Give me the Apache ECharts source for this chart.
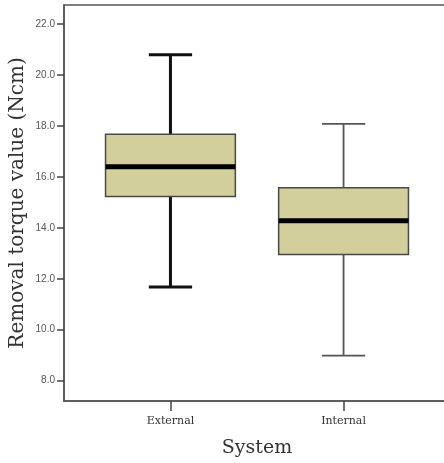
<!DOCTYPE html>
<html>
<head>
<meta charset="utf-8">
<script src="https://cdn.jsdelivr.net/npm/echarts@6/dist/echarts.min.js"></script>
<style>
  html, body { margin: 0; padding: 0; background: #fff; }
  #main { width: 444px; height: 463px; }
</style>
</head>
<body>
<div id="main"></div>
<script>
// 数据
var categories = ['External', 'Internal'];
var lowWhisker = [11.68, 8.98];
var q1 = [15.23, 12.95];
var medians = [16.40, 14.28];
var q3 = [17.67, 15.57];
var highWhisker = [20.80, 18.08];
var yTicks = [8, 10, 12, 14, 16, 18, 20, 22];

var boxData = [];
categories.forEach(function (c, i) {
    boxData.push([i, lowWhisker[i], q1[i], medians[i], q3[i], highWhisker[i]]);
});

function renderBox(params, api) {
    var i = api.value(0);
    var lo = api.coord([i, api.value(1)]);
    var b1 = api.coord([i, api.value(2)]);
    var md = api.coord([i, api.value(3)]);
    var b3 = api.coord([i, api.value(4)]);
    var hi = api.coord([i, api.value(5)]);
    var bw = api.size([0.75, 0])[0];
    var cw = api.size([0.25, 0])[0];
    var x = lo[0];
    // External 的须线更粗
    var ww = i === 0 ? 3 : 1.8;
    var wc = i === 0 ? '#111' : '#555';
    return {
        type: 'group',
        children: [
            { type: 'line', shape: { x1: x, y1: hi[1], x2: x, y2: b3[1] }, style: { stroke: wc, lineWidth: ww } },
            { type: 'line', shape: { x1: x, y1: b1[1], x2: x, y2: lo[1] }, style: { stroke: wc, lineWidth: ww } },
            { type: 'line', shape: { x1: x - cw / 2, y1: hi[1], x2: x + cw / 2, y2: hi[1] }, style: { stroke: wc, lineWidth: ww } },
            { type: 'line', shape: { x1: x - cw / 2, y1: lo[1], x2: x + cw / 2, y2: lo[1] }, style: { stroke: wc, lineWidth: ww } },
            { type: 'rect', shape: { x: x - bw / 2, y: b3[1], width: bw, height: b1[1] - b3[1] },
              style: { fill: '#d3cf9d', stroke: '#4a4a44', lineWidth: 1.5 } },
            { type: 'line', shape: { x1: x - bw / 2, y1: md[1], x2: x + bw / 2, y2: md[1] }, style: { stroke: '#000', lineWidth: 5 } }
        ]
    };
}

var option = {
    backgroundColor: '#fff',
    animation: false,
    grid: {
        left: 64,
        top: 5,
        width: 386,
        bottom: 62,
        outerBoundsMode: 'none',
        containLabel: false,
        show: true,
        borderColor: '#555',
        borderWidth: 1.5
    },
    xAxis: {
        type: 'value',
        min: -0.615,
        max: 1.615,
        name: 'System',
        nameLocation: 'middle',
        nameGap: 38,
        nameTextStyle: { fontFamily: 'DejaVu Serif', fontSize: 19, color: '#333' },
        splitLine: { show: false },
        axisLine: { show: true, onZero: false, lineStyle: { color: '#555', width: 1.5 } },
        axisTick: { show: true, customValues: [0, 1], length: 10, lineStyle: { color: '#444', width: 1.5 } },
        axisLabel: {
            customValues: [0, 1],
            fontFamily: 'DejaVu Serif',
            fontSize: 11,
            color: '#333',
            margin: 15,
            formatter: function (v) { return categories[Math.round(v)]; }
        }
    },
    yAxis: {
        type: 'value',
        min: 7.2,
        max: 22.75,
        name: 'Removal torque value (Ncm)',
        nameLocation: 'middle',
        nameGap: 36,
        nameMoveOverlap: false,
        nameTextStyle: { fontFamily: 'DejaVu Serif', fontSize: 20, color: '#333' },
        splitLine: { show: false },
        axisLine: { show: true, onZero: false, lineStyle: { color: '#555', width: 1.5 } },
        axisTick: { show: true, customValues: yTicks, length: 7, lineStyle: { color: '#444', width: 1.5 } },
        axisLabel: {
            customValues: yTicks,
            fontFamily: 'Liberation Sans',
            fontSize: 10,
            color: '#555',
            margin: 9,
            formatter: function (v) { return v.toFixed(1); }
        }
    },
    series: [{
        type: 'custom',
        renderItem: renderBox,
        encode: { x: 0, y: [1, 2, 3, 4, 5] },
        data: boxData
    }]
};

var chart = echarts.init(document.getElementById('main'));
chart.setOption(option);
window.addEventListener('resize', function () {
    chart.resize();
});
</script>
</body>
</html>
